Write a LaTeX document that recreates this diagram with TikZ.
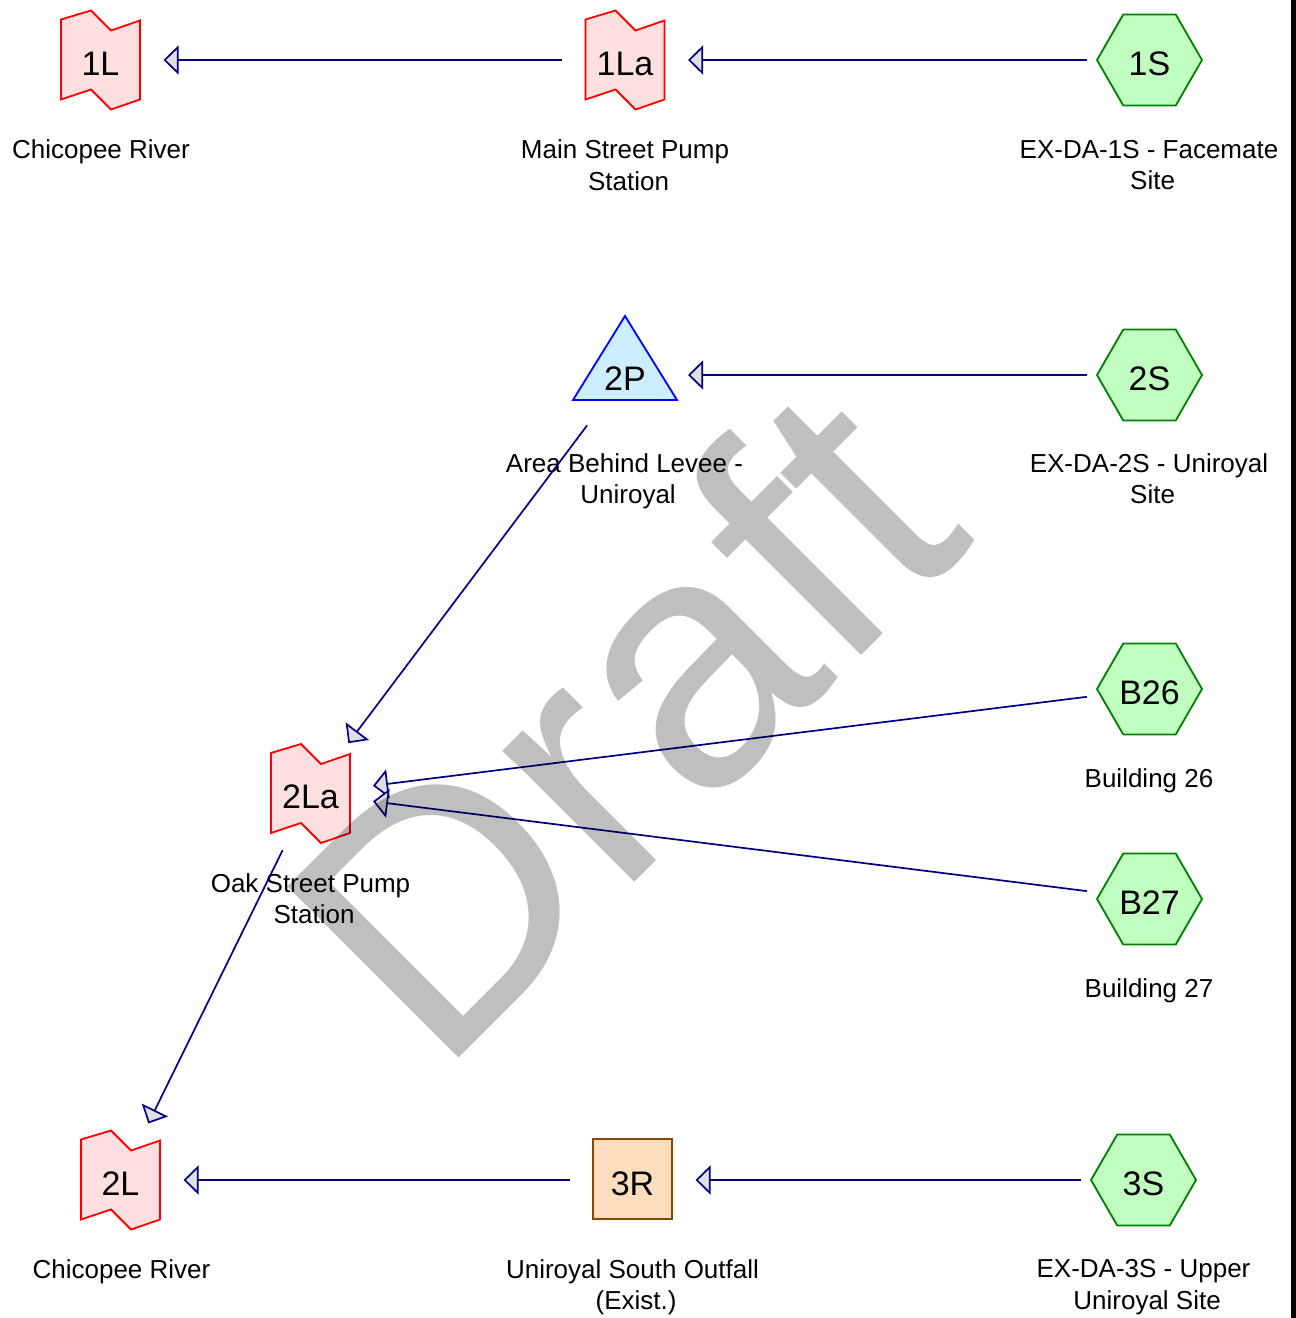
\documentclass[tikz,border=0pt]{standalone}
\usepackage{fontspec}
\setmainfont{Liberation Sans}
\usetikzlibrary{arrows.meta,backgrounds}

\definecolor{linkfill}{RGB}{255,224,224}
\definecolor{linkline}{RGB}{255,0,0}
\definecolor{subfill}{RGB}{192,255,192}
\definecolor{subline}{RGB}{0,128,0}
\definecolor{pondfill}{RGB}{204,238,255}
\definecolor{pondline}{RGB}{0,0,255}
\definecolor{reachfill}{RGB}{255,222,190}
\definecolor{reachline}{RGB}{140,70,0}
\definecolor{flowline}{RGB}{0,0,128}
\definecolor{headfill}{RGB}{224,224,224}

\tikzset{
  idtext/.style={inner sep=0pt, font=\fontsize{34}{40}\selectfont,
    text height=30pt, text depth=0pt},
  caption/.style={inner sep=0pt, anchor=north, align=center,
    font=\fontsize{26}{31.2}\selectfont},
  outline/.style={line width=1.8pt, line join=miter},
  flow/.style={draw=flowline, line width=1.7pt,
    shorten <=63pt, shorten >=63pt,
    -{Triangle[length=15pt,width=29pt,fill=headfill]}},
  % link (river / pump station) symbol
  linkicon/.pic={
    \draw[outline, draw=linkline, fill=linkfill]
      (-39.5,-40.5) -- (-9.5,-49.5) -- (10.5,-29.5) -- (39.5,-39.5)
      -- (39.5,39.5) -- (10.5,49.5) -- (-9.5,29.5) -- (-39.5,39.5) -- cycle;
  },
  % subcatchment symbol
  subicon/.pic={
    \draw[outline, draw=subline, fill=subfill]
      (-52.5,0) -- (-26.25,-45.5) -- (26.25,-45.5) -- (52.5,0)
      -- (26.25,45.5) -- (-26.25,45.5) -- cycle;
  },
  % pond symbol
  pondicon/.pic={
    \draw[outline, draw=pondline, fill=pondfill]
      (0,-59) -- (52,25) -- (-52,25) -- cycle;
  },
  % reach symbol
  reachicon/.pic={
    \draw[outline, draw=reachline, fill=reachfill]
      (-39.5,-41) rectangle (39.5,39);
  },
}

\begin{document}
\begin{tikzpicture}[x=1pt,y=-1pt]
\useasboundingbox (0,0) rectangle (1296,1318);

% element identifiers
\node[idtext] (n1L)  at (100.5,60)    {1L};
\node[idtext] (n1La) at (625,60)      {1La};
\node[idtext] (n1S)  at (1149.5,60)   {1S};
\node[idtext] (n2P)  at (625,375)     {2P};
\node[idtext] (n2S)  at (1149.5,375)  {2S};
\node[idtext] (nB26) at (1149.5,689)  {B26};
\node[idtext] (n2La) at (310.5,793.5) {2La};
\node[idtext] (nB27) at (1149.5,899)  {B27};
\node[idtext] (n2L)  at (120.5,1180)  {2L};
\node[idtext] (n3R)  at (632.5,1180)  {3R};
\node[idtext] (n3S)  at (1143.5,1180) {3S};

% symbols behind the identifiers
\begin{scope}[on background layer]
  \pic at (n1L.center)  {linkicon};
  \pic at (n1La.center) {linkicon};
  \pic at (n2La.center) {linkicon};
  \pic at (n2L.center)  {linkicon};
  \pic at (n1S.center)  {subicon};
  \pic at (n2S.center)  {subicon};
  \pic at (nB26.center) {subicon};
  \pic at (nB27.center) {subicon};
  \pic at (n3S.center)  {subicon};
  \pic at (n2P.center)  {pondicon};
  \pic at (n3R.center)  {reachicon};
\end{scope}

% captions
\node[caption] (t1L)  at (101,139.8)    {Chicopee River};
\node[caption] (t1La) at (628.6,139.8)  {Main Street Pump\kern7.2pt\\Station};
\node[caption] (t1S)  at (1152.6,139.8) {EX-DA-1S - Facemate\kern7.2pt\\Site};
\node[caption] (t2P)  at (628.1,453.6)  {Area Behind Levee -\kern7.2pt\\Uniroyal};
\node[caption] (t2S)  at (1152.6,453.6) {EX-DA-2S - Uniroyal\kern7.2pt\\Site};
\node[caption] (tB26) at (1149,768.3)   {Building 26};
\node[caption] (t2La) at (314.1,873.3)  {Oak Street Pump\kern7.2pt\\Station};
\node[caption] (tB27) at (1149,978.3)   {Building 27};
\node[caption] (t2L)  at (121.5,1259.6) {Chicopee River};
\node[caption] (t3R)  at (636.1,1259.6) {Uniroyal South Outfall\kern7.2pt\\(Exist.)};
\node[caption] (t3S)  at (1147.1,1259.6) {EX-DA-3S - Upper\kern7.2pt\\Uniroyal Site};

% flow connections
\draw[flow] (n1La.center) -- (n1L.center);
\draw[flow] (n1S.center)  -- (n1La.center);
\draw[flow] (n2S.center)  -- (n2P.center);
\draw[flow] (n2P.center)  -- (n2La.center);
\draw[flow] (nB26.center) -- (n2La.center);
\draw[flow] (nB27.center) -- (n2La.center);
\draw[flow] (n2La.center) -- (n2L.center);
\draw[flow] (n3R.center)  -- (n2L.center);
\draw[flow] (n3S.center)  -- (n3R.center);

% watermark
\node[anchor=base west, rotate=45, inner sep=0pt, text=black,
      text opacity=0.25, font=\fontsize{352}{400}\selectfont]
      (wm) at (438,1079) {Draft};

% page edge
\fill[black] (1291,0) rectangle (1296,1318);
\end{tikzpicture}
\end{document}
